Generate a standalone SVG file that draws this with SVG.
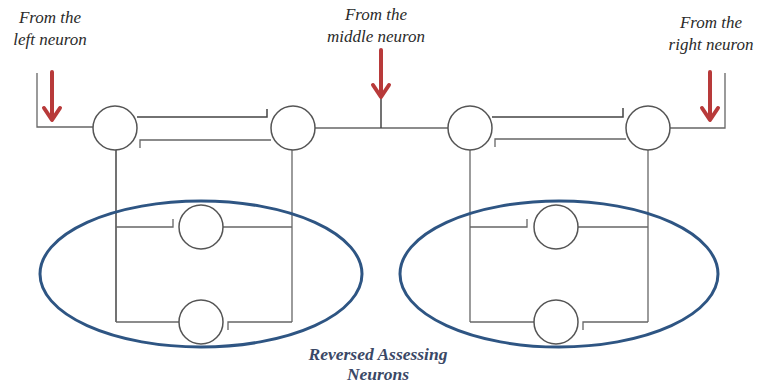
<svg xmlns="http://www.w3.org/2000/svg" width="768" height="385" viewBox="0 0 768 385">
<defs>
<style>
.ln{fill:none;stroke:#444;stroke-width:1.5}
.lt{fill:none;stroke:#666;stroke-width:1.3}
.cir{fill:#fff;stroke:#555;stroke-width:1.5}
.ell{fill:none;stroke:#2e5583;stroke-width:3}
.arr{fill:none;stroke:#b83a3a;stroke-width:4;stroke-linecap:round;stroke-linejoin:round}
.lbl{font-family:"Liberation Serif",serif;font-style:italic;font-size:17px;fill:#2a2a2a;text-anchor:middle}
.cap{font-family:"Liberation Serif",serif;font-style:italic;font-weight:bold;font-size:17.5px;fill:#3a4866;text-anchor:middle}
</style>
</defs>
<rect width="768" height="385" fill="#fff"/>
<g id="connectors">
<polyline class="lt" points="37,73 37,127 93,127"/>
<polyline class="ln" points="137,117 267,117 267,109"/>
<polyline class="lt" points="271,140 140,140 140,148"/>
<line class="lt" x1="315" y1="128" x2="448" y2="128"/>
<line class="ln" x1="381" y1="98" x2="381" y2="128"/>
<polyline class="ln" points="492,117 623,117 623,108"/>
<polyline class="lt" points="626,139 495,139 495,147"/>
<polyline class="lt" points="670,128 725,128 725,73"/>
<line class="ln" x1="116" y1="150" x2="116" y2="322"/>
<line class="lt" x1="292" y1="150" x2="292" y2="322"/>
<polyline class="lt" points="116,227 173,227 173,219"/>
<line class="lt" x1="223" y1="227" x2="292" y2="227"/>
<line class="lt" x1="116" y1="322" x2="179" y2="322"/>
<polyline class="lt" points="228,330 228,322 292,322"/>
<line class="lt" x1="470" y1="150" x2="470" y2="322"/>
<line class="lt" x1="648" y1="150" x2="648" y2="322"/>
<polyline class="lt" points="470,227 527,227 527,219"/>
<line class="lt" x1="578" y1="227" x2="648" y2="227"/>
<line class="lt" x1="470" y1="322" x2="534" y2="322"/>
<polyline class="lt" points="583,330 583,322 648,322"/>
</g>
<g id="arrows">
<path class="arr" d="M52,72 V119 M44,108 L52,120 L60,108"/>
<path class="arr" d="M381,50 V96 M373,85 L381,97 L389,85"/>
<path class="arr" d="M710,72 V119 M702,108 L710,120 L718,108"/>
</g>
<g id="n1"><circle class="cir" cx="115" cy="128" r="22"/></g>
<g id="n2"><circle class="cir" cx="293" cy="128" r="22"/></g>
<g id="n3"><circle class="cir" cx="470" cy="128" r="22"/></g>
<g id="n4"><circle class="cir" cx="648" cy="128" r="22"/></g>
<g id="n5"><circle class="cir" cx="201" cy="227" r="22"/></g>
<g id="n6"><circle class="cir" cx="201" cy="322" r="22"/></g>
<g id="n7"><circle class="cir" cx="556" cy="227" r="22"/></g>
<g id="n8"><circle class="cir" cx="556" cy="322" r="22"/></g>
<g id="group-left"><ellipse class="ell" cx="201" cy="274" rx="161" ry="73"/></g>
<g id="group-right"><ellipse class="ell" cx="559" cy="274" rx="159" ry="73"/></g>
<g id="labels">
<text class="lbl" x="50" y="23">From the</text>
<text class="lbl" x="50" y="45">left neuron</text>
<text class="lbl" x="376" y="20">From the</text>
<text class="lbl" x="376" y="42">middle neuron</text>
<text class="lbl" x="711" y="28">From the</text>
<text class="lbl" x="711" y="50">right neuron</text>
<text class="cap" x="378" y="360">Reversed Assessing</text>
<text class="cap" x="378" y="380">Neurons</text>
</g>
</svg>
